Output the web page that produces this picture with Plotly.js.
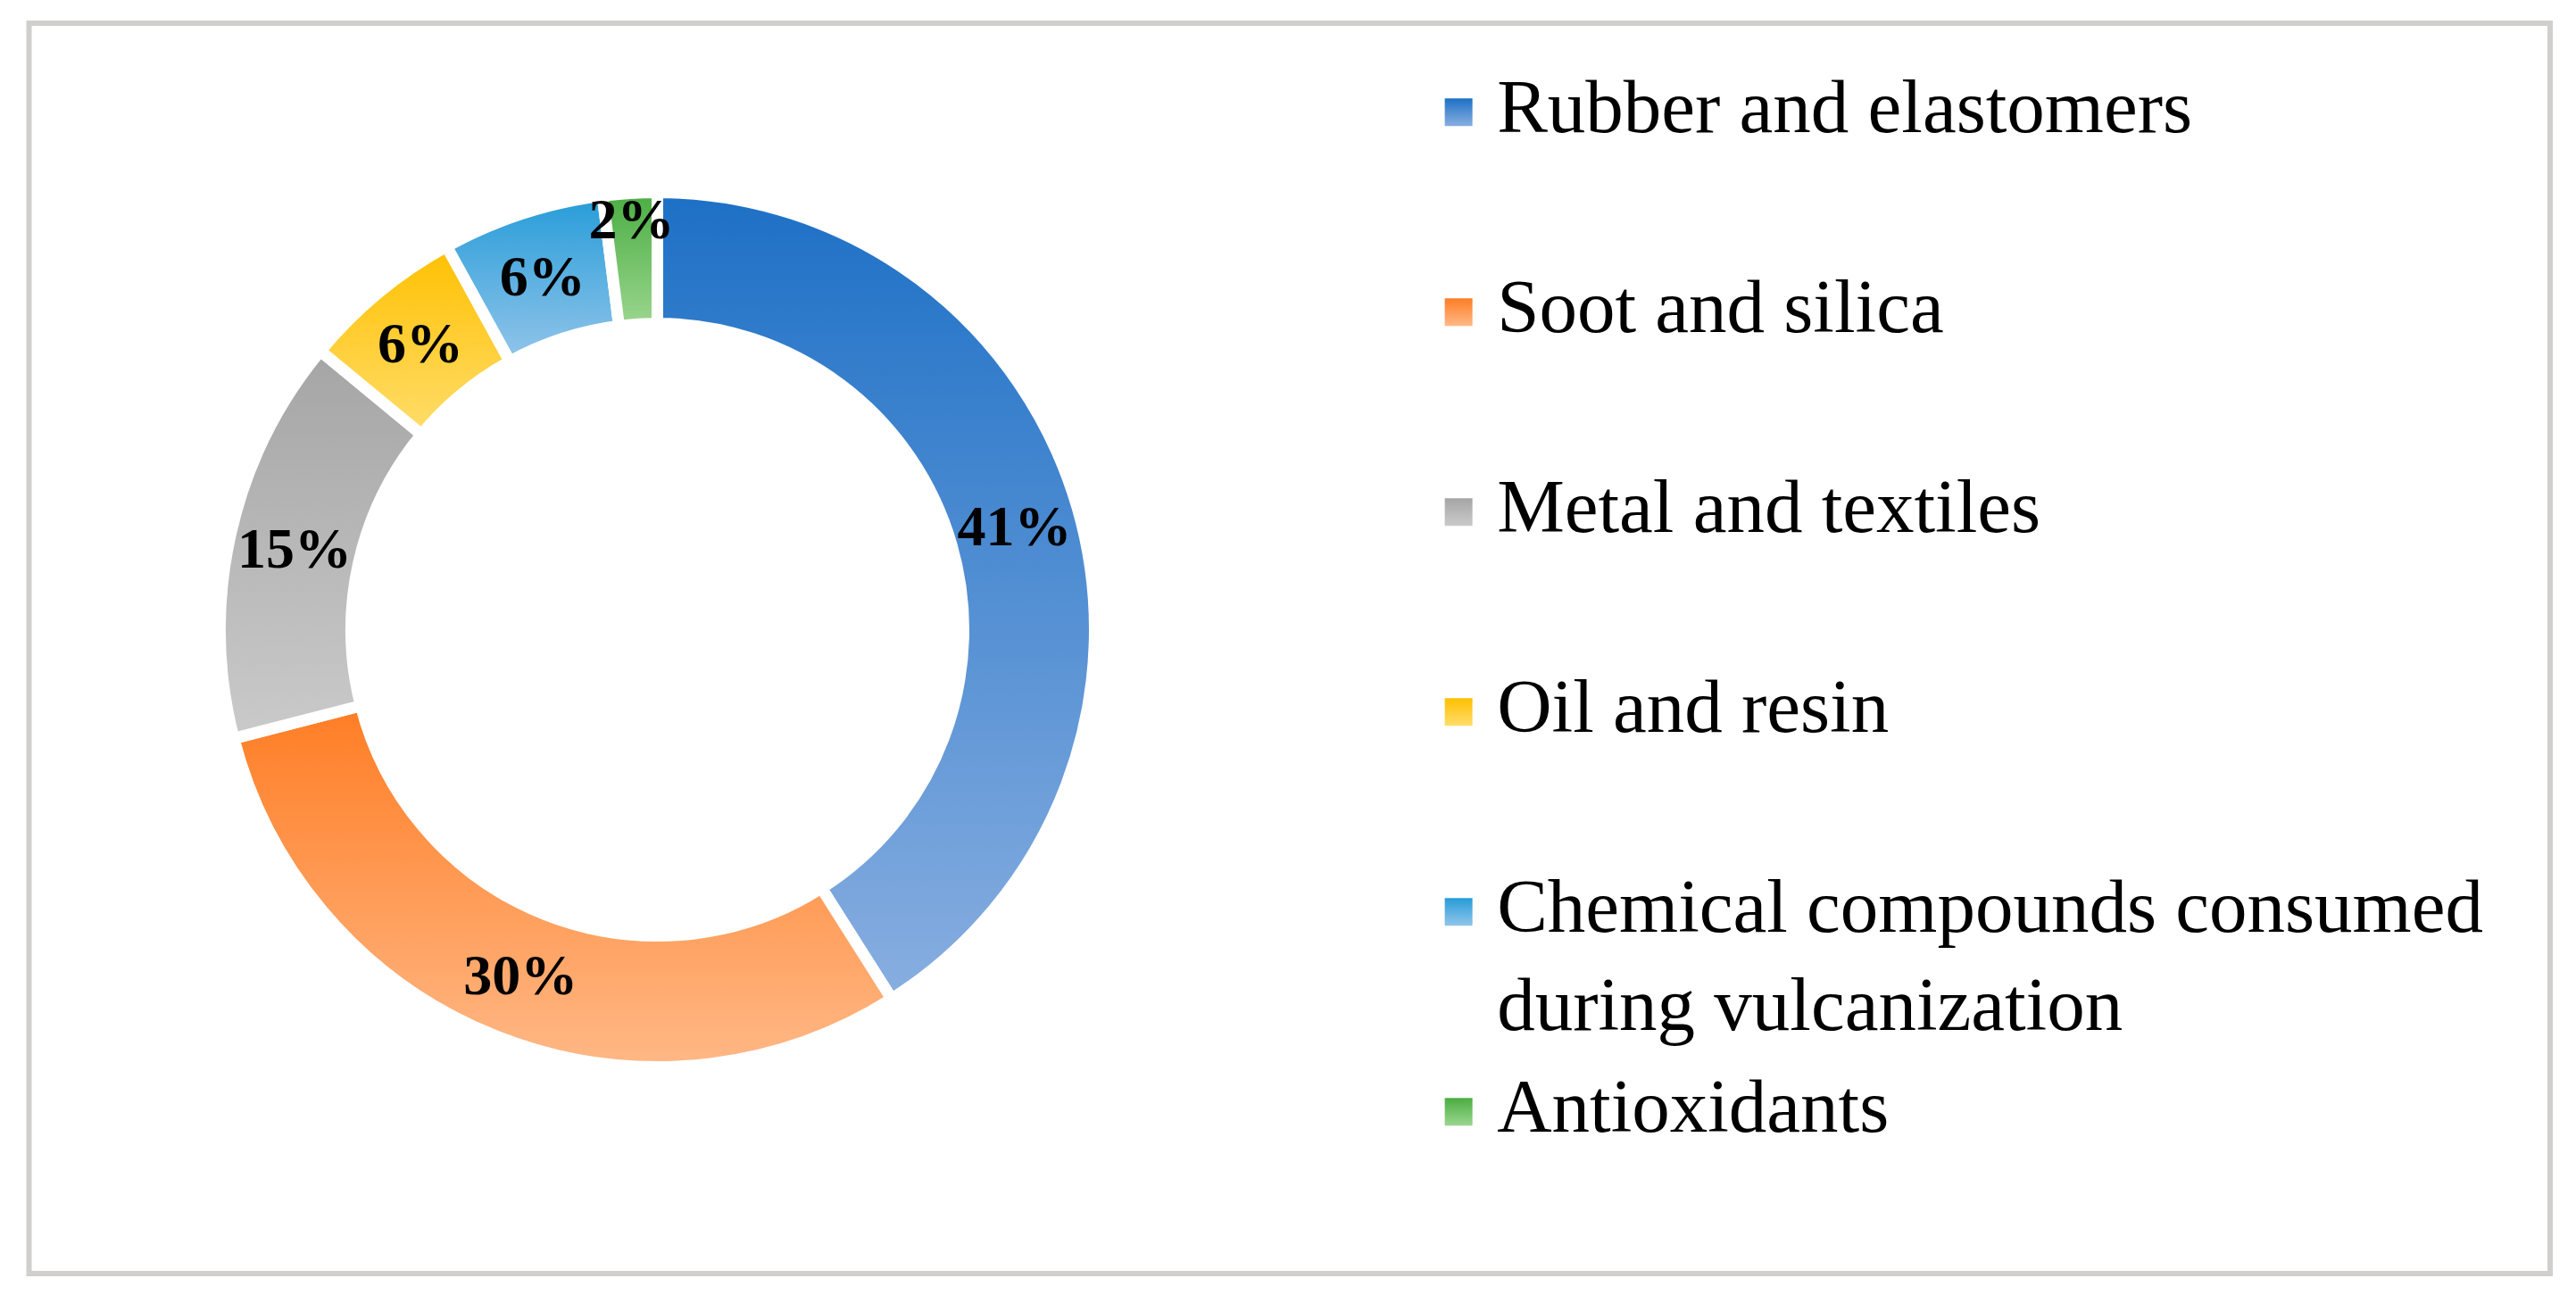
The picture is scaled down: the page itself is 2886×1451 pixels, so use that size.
<!DOCTYPE html>
<html>
<head>
<meta charset="utf-8">
<script src="https://cdn.plot.ly/plotly-3.0.1.min.js"></script>
<style>
  html, body { margin: 0; padding: 0; background: #fff; }
  #myDiv { width: 2886px; height: 1451px; }
</style>
</head>
<body>
<div id="myDiv"></div>
<script>
// tyre composition, share in %
var categories = ['Rubber and elastomers', 'Soot and silica', 'Metal and textiles', 'Oil and resin',
  'Chemical compounds consumed<br>during vulcanization', 'Antioxidants'];
var shares = [41, 30, 15, 6, 6, 2];

// excel-like vertical gradient for each slice (top -> bottom)
var topColors = ['#1d70c6', '#ff7d24', '#a5a5a5', '#ffc000', '#269cd8', '#4aad42'];
var bottomColors = ['#88aee0', '#ffb886', '#cacaca', '#ffdd6b', '#92c5ea', '#9bd68f'];
var midColors = ['#5b91d4', '#ff9a55', '#b8b8b8', '#ffcf3a', '#5cb1e1', '#74c269'];

// every legend entry takes two lines, same as the long one
var legendLabels = categories.map(function (c) {
  return c.indexOf('<br>') < 0 ? c + '<br> ' : c;
});

var trace1 = {
  type: 'pie',
  labels: legendLabels,
  values: shares,
  hole: 0.7,
  sort: false,
  direction: 'clockwise',
  rotation: 0,
  domain: {x: [0.08541, 0.42498], y: [0.17609, 0.85148]},
  marker: {colors: midColors, line: {color: '#ffffff', width: 13}},
  textposition: 'inside',
  insidetextorientation: 'horizontal',
  texttemplate: '%{value}%',
  textfont: {family: 'Liberation Serif', size: 64, color: '#000000', weight: 'bold'},
  hoverinfo: 'none'
};

var layout = {
  width: 2886,
  height: 1451,
  margin: {l: 0, r: 0, t: 0, b: 0},
  paper_bgcolor: '#ffffff',
  showlegend: true,
  legend: {
    x: 0.5593, xanchor: 'left',
    y: 0.9635, yanchor: 'top',
    valign: 'top',
    itemwidth: 53,
    bgcolor: 'rgba(0,0,0,0)',
    font: {family: 'Liberation Serif', size: 85, color: '#000000'}
  },
  uniformtext: {mode: 'show', minsize: 64},
  shapes: [{
    type: 'rect', xref: 'paper', yref: 'paper',
    x0: 0.01126, x1: 0.98995, y0: 0.01654, y1: 0.98208,
    line: {color: '#d0cfcd', width: 6}
  }]
};

Plotly.newPlot('myDiv', [trace1], layout, {staticPlot: true}).then(function (gd) {
  var ns = 'http://www.w3.org/2000/svg';
  var defs = gd.querySelector('svg.main-svg defs');
  topColors.forEach(function (c, i) {
    var grad = document.createElementNS(ns, 'linearGradient');
    grad.setAttribute('id', 'fade' + i);
    grad.setAttribute('x1', '0'); grad.setAttribute('y1', '0');
    grad.setAttribute('x2', '0'); grad.setAttribute('y2', '1');
    [[0, c], [1, bottomColors[i]]].forEach(function (s) {
      var stop = document.createElementNS(ns, 'stop');
      stop.setAttribute('offset', s[0]);
      stop.setAttribute('stop-color', s[1]);
      grad.appendChild(stop);
    });
    defs.appendChild(grad);
  });

  gd.querySelectorAll('g.slice path.surface').forEach(function (p, i) {
    p.style.fill = 'url(#fade' + i + ')';
  });

  // bigger square legend markers with the same gradient
  gd.querySelectorAll('path.legendpie').forEach(function (p, i) {
    p.setAttribute('d', 'M15.5,15.5V-15.5H-15.5V15.5Z');
    p.setAttribute('transform', 'translate(20,11)');
    p.style.fill = 'url(#fade' + i + ')';
    p.style.strokeWidth = '0';
  });
});
</script>
</body>
</html>
